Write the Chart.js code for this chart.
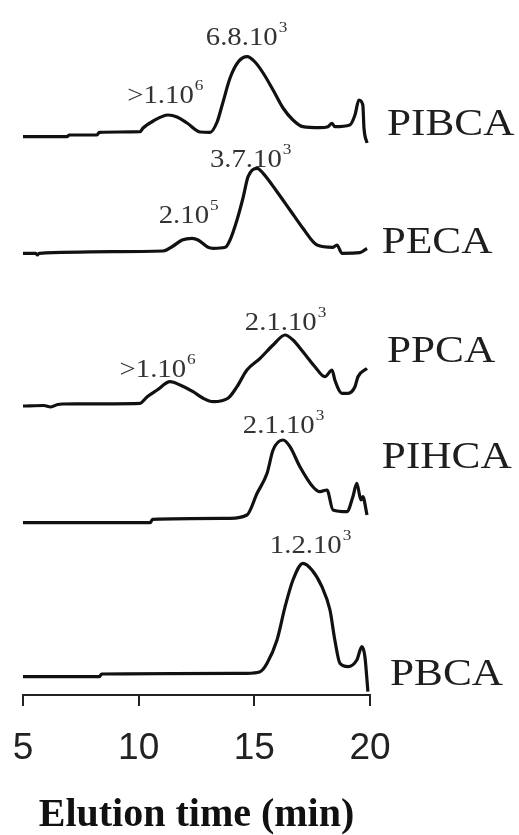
<!DOCTYPE html>
<html>
<head>
<meta charset="utf-8">
<script src="https://cdn.jsdelivr.net/npm/chart.js@4/dist/chart.umd.min.js"></script>
<style>
  html, body { margin: 0; padding: 0; background: #fff; }
  #wrap { width: 519px; height: 835px; position: relative; }
</style>
</head>
<body>
<div id="wrap"><canvas id="gpc-chart"></canvas></div>
<script>
// elution time (min) and detector signal above each trace's own baseline
const seriesNames = ['PIBCA', 'PECA', 'PPCA', 'PIHCA', 'PBCA'];

const pibcaTime = [5.0, 6.9, 7.0, 8.2, 8.3, 10.06, 10.19, 10.63, 11.27, 11.66, 12.09, 12.66, 13.09, 13.39, 13.61, 13.95, 14.30, 14.69, 15.03, 15.38, 15.81, 16.24, 16.67, 17.10, 17.84, 18.18, 18.36, 18.48, 19.13, 19.35, 19.52, 19.69, 19.74, 19.87];
const pibcaSignal = [0, 0, 1.7, 1.7, 4.4, 5, 8.7, 15.7, 21.7, 19.7, 13.7, 4.7, 4.4, 14.7, 31.7, 58.7, 74.7, 80, 74.7, 63.7, 46.7, 28.7, 16.7, 10, 9, 10, 13.4, 10, 11.7, 21.7, 36.7, 31.7, 8.7, -6.3];

const pecaTime = [5.0, 5.55, 5.62, 5.7, 11.06, 11.49, 11.88, 12.31, 12.57, 13.0, 13.22, 13.74, 13.95, 14.25, 14.51, 14.73, 15.12, 15.38, 15.98, 16.54, 17.10, 17.71, 18.40, 18.57, 18.79, 19.56, 19.87];
const pecaSignal = [0, 0, -1.7, 0, 2.3, 7.3, 13.3, 15, 13.3, 6, 5, 6, 13.3, 33.3, 55.3, 76.6, 85, 80, 61.6, 43.3, 25, 8.3, 6, 8.3, 0, 0.6, 5];

const ppcaTime = [5.0, 5.9, 6.2, 6.5, 6.7, 10.06, 10.37, 10.80, 11.36, 11.79, 12.35, 12.79, 13.22, 13.86, 14.25, 14.68, 15.25, 15.81, 16.33, 16.67, 17.10, 17.62, 18.05, 18.36, 18.48, 18.79, 19.05, 19.35, 19.48, 19.87];
const ppcaSignal = [0, 0.5, -1, 1.5, 2, 2.7, 9.3, 16, 24.3, 21, 14.3, 7.7, 4.3, 7.7, 19.3, 36, 47.7, 61, 71, 66, 54.3, 39.3, 29.3, 36, 26, 12.7, 12.7, 19.3, 29.3, 37.7];

const pihcaTime = [5.0, 10.5, 10.6, 13.95, 14.68, 15.12, 15.55, 15.81, 16.24, 16.54, 16.97, 17.53, 17.84, 18.14, 18.40, 19.0, 19.26, 19.43, 19.61, 19.69, 19.87];
const pihcaSignal = [0, 0, 3.4, 4.4, 7.7, 29.4, 49.4, 72.7, 82.7, 76, 56, 36, 31, 32.7, 12.7, 11, 26, 39.4, 22.7, 26, 7.7];

const pbcaTime = [5.0, 8.3, 8.4, 14.68, 15.25, 15.55, 15.98, 16.33, 16.67, 17.10, 17.49, 17.92, 18.27, 18.48, 18.70, 19.05, 19.43, 19.65, 19.78, 19.91];
const pbcaSignal = [0, 0, 2.7, 3.4, 5, 13.4, 36.7, 70, 96.7, 113.4, 106.7, 90, 66.7, 36.7, 13.4, 10, 16.7, 30, 20, -15];

// vertical offset of each trace in the stack
const baselines = [558.3, 441.7, 289, 172.3, 18.3];

const xTicks = [5, 10, 15, 20];

// molar mass labels over the peaks
const peakSeries = [0, 0, 1, 1, 2, 2, 3, 4];
const peakMain = ['>1.10', '6.8.10', '2.10', '3.7.10', '>1.10', '2.1.10', '2.1.10', '1.2.10'];
const peakExp = ['6', '3', '5', '3', '6', '3', '3', '3'];
const peakAtTime = [11.13, 14.64, 12.14, 14.82, 10.80, 16.33, 16.24, 17.41];
const peakAtLevel = [33.7, 91.7, 30.3, 86.3, 29, 76, 89.7, 123.7];

// where the trace names sit (right of the axis end)
const nameAtTime = [20.73, 20.51, 20.73, 20.51, 20.86];
const nameAtLevel = [1.7, 0.3, 44, 54.7, -8.3];

const traceTimes = [pibcaTime, pecaTime, ppcaTime, pihcaTime, pbcaTime];
const traceSignals = [pibcaSignal, pecaSignal, ppcaSignal, pihcaSignal, pbcaSignal];

function drawStretched(ctx, text, x, y, sx) {
  ctx.save();
  ctx.translate(x, y);
  ctx.scale(sx, 1);
  ctx.fillText(text, 0, 0);
  ctx.restore();
}

const SERIF = '"Liberation Serif", "Times New Roman", serif';

const textPlugin = {
  id: 'traceText',
  afterDatasetsDraw(chart) {
    const ctx = chart.ctx;
    const xs = chart.scales.x;
    const ys = chart.scales.y;
    ctx.save();
    ctx.textBaseline = 'alphabetic';
    ctx.textAlign = 'left';

    // trace names
    ctx.fillStyle = '#1e1e1e';
    ctx.font = '38px ' + SERIF;
    seriesNames.forEach((name, i) => {
      const x = xs.getPixelForValue(nameAtTime[i]);
      const y = ys.getPixelForValue(baselines[i] + nameAtLevel[i]);
      drawStretched(ctx, name, x, y, 1.14);
    });

    // peak labels with superscript exponent
    ctx.fillStyle = '#333';
    const sx = 1.15;
    peakMain.forEach((txt, k) => {
      const s = peakSeries[k];
      const cx = xs.getPixelForValue(peakAtTime[k]);
      const y = ys.getPixelForValue(baselines[s] + peakAtLevel[k]);
      ctx.font = '25px ' + SERIF;
      const wMain = ctx.measureText(txt).width * sx;
      ctx.font = '15px ' + SERIF;
      const wExp = ctx.measureText(peakExp[k]).width * sx;
      const left = cx - (wMain + wExp) / 2;
      ctx.font = '25px ' + SERIF;
      drawStretched(ctx, txt, left, y, sx);
      ctx.font = '15px ' + SERIF;
      drawStretched(ctx, peakExp[k], left + wMain + 1, y - 13, sx);
    });
    ctx.restore();
  }
};

const datasets = seriesNames.map((name, i) => ({
  label: name,
  data: traceTimes[i].map((t, j) => ({ x: t, y: baselines[i] + traceSignals[i][j] })),
  borderColor: '#111',
  borderWidth: 3.2,
  pointRadius: 0,
  fill: false,
  cubicInterpolationMode: 'monotone',
  clip: false
}));

new Chart(document.getElementById('gpc-chart'), {
  type: 'line',
  data: { datasets: datasets },
  plugins: [textPlugin],
  options: {
    responsive: true,
    maintainAspectRatio: false,
    animation: false,
    layout: { padding: { left: 23, right: 149, top: 0, bottom: 0 } },
    plugins: { legend: { display: false }, tooltip: { enabled: false } },
    scales: {
      x: {
        type: 'linear',
        min: 5,
        max: 20,
        afterFit: (scale) => {
          scale.height = 140;
          scale.paddingLeft = 0;
          scale.paddingRight = 0;
        },
        afterBuildTicks: (scale) => { scale.ticks = xTicks.map(v => ({ value: v })); },
        border: { display: true, color: '#222', width: 2 },
        grid: { display: true, drawOnChartArea: false, drawTicks: true, tickLength: 11, color: '#222', lineWidth: 2 },
        ticks: {
          color: '#222',
          padding: 21,
          maxRotation: 0,
          font: { family: '"Liberation Sans", Arial, sans-serif', size: 37 }
        },
        title: {
          display: true,
          text: 'Elution time (min)',
          color: '#111',
          padding: { top: 0, bottom: -5 },
          font: { family: SERIF, size: 40, weight: 'bold' }
        }
      },
      y: {
        type: 'linear',
        display: false,
        min: 0,
        max: 695
      }
    }
  }
});
</script>
</body>
</html>
